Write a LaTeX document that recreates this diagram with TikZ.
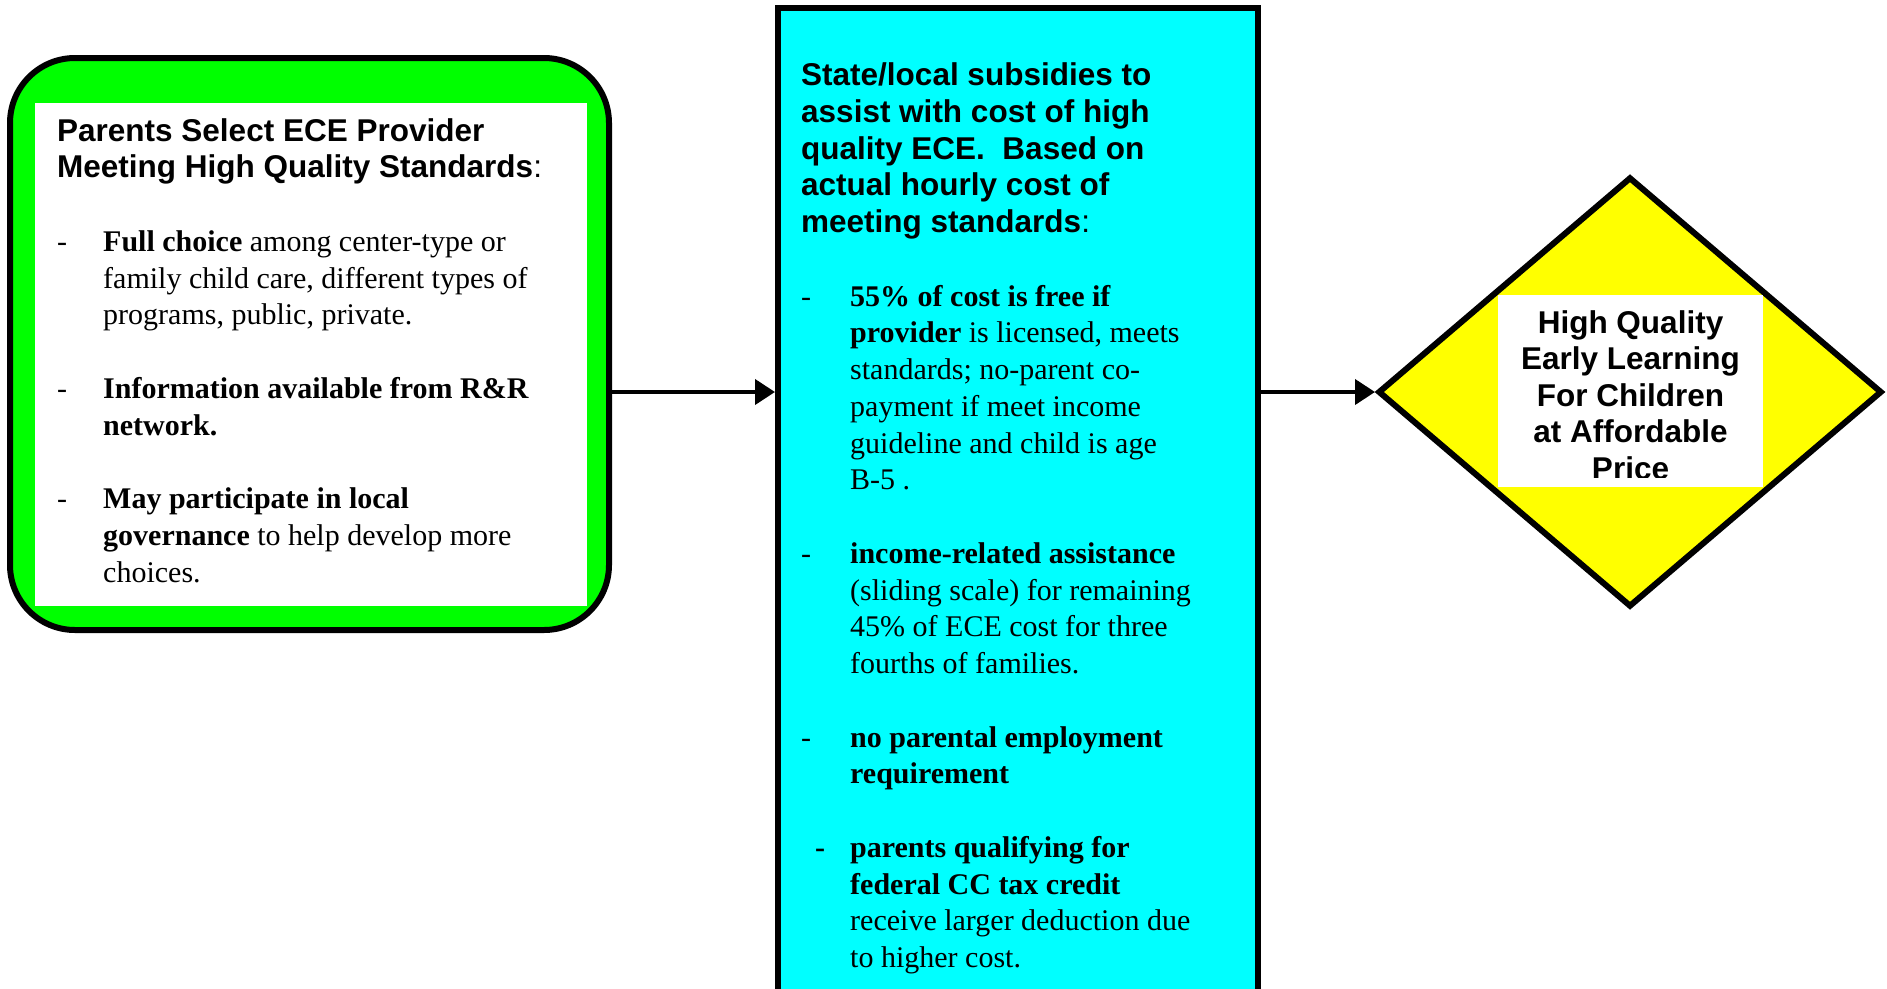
\documentclass[tikz,border=0pt]{standalone}
\usepackage{fontspec}
\setmainfont{Liberation Serif}
\setsansfont{Liberation Sans}
\usetikzlibrary{arrows.meta,shapes.geometric}
\definecolor{boxgreen}{RGB}{0,255,0}
\definecolor{boxcyan}{RGB}{0,255,255}
\definecolor{boxyellow}{RGB}{255,255,0}
\tikzset{
  hd/.style={anchor=base west, inner sep=0pt, font=\fontsize{31.5}{36}\selectfont\sffamily\bfseries},
  hdc/.style={anchor=base, inner sep=0pt, font=\fontsize{31.5}{36}\selectfont\sffamily\bfseries},
  tx/.style={anchor=base west, inner sep=0pt, font=\fontsize{30}{36}\selectfont\rmfamily},
  frame/.style={draw=black, line width=6pt, inner sep=0pt},
  panel/.style={fill=white, draw=none, inner sep=0pt},
  arr/.style={line width=4pt, -{Triangle[length=20pt,width=25pt]}},
}
\begin{document}
\begin{tikzpicture}[x=1pt,y=-1pt]
\useasboundingbox (0,0) rectangle (1887,988);
\clip (0,0) rectangle (1887,988);
% boxes
\node[frame, fill=boxgreen, rounded corners=65pt, minimum width=599pt, minimum height=572pt] (green) at (309.5,344) {};
\node[panel, minimum width=552pt, minimum height=503pt] (gwhite) at (311,354.5) {};
\node[frame, fill=boxcyan, minimum width=480pt, minimum height=1100pt] (cyan) at (1018,558) {};
\node[frame, fill=boxyellow, shape=diamond, minimum width=504pt, minimum height=430pt, line join=miter] (dia) at (1630,392) {};
\node[panel, minimum width=265pt, minimum height=192pt] (dwhite) at (1630.5,391) {};
% connectors
\coordinate (lvl) at (0,392);
\draw[arr] (green.east |- lvl) -- (cyan.west |- lvl);
\draw[arr] (cyan.east |- dia.west) -- (dia.west);
% green box text
\node[hd] (g1) at (57,141) {Parents Select ECE Provider};
\node[hd] (g2) at (57,177.75) {Meeting High Quality Standards\textmd{:}};
\node[tx] (gd1) at (57,251.25) {-};
\node[tx] (g3) at (103,251.25) {\textbf{Full choice} among center-type or};
\node[tx] (g4) at (103,288) {family child care, different types of};
\node[tx] (g5) at (103,324.75) {programs, public, private.};
\node[tx] (gd2) at (57,398.25) {-};
\node[tx] (g6) at (103,398.25) {\textbf{Information available from R\&R}};
\node[tx] (g7) at (103,435) {\textbf{network.}};
\node[tx] (gd3) at (57,508.5) {-};
\node[tx] (g8) at (103,508.5) {\textbf{May participate in local}};
\node[tx] (g9) at (103,545.25) {\textbf{governance} to help develop more};
\node[tx] (g10) at (103,582) {choices.};
% cyan box text
\node[hd] (c1) at (801,85.5) {State/local subsidies to};
\node[hd] (c2) at (801,122.25) {assist with cost of high};
\node[hd] (c3) at (801,159) {quality ECE.\ \ Based on};
\node[hd] (c4) at (801,195.75) {actual hourly cost of};
\node[hd] (c5) at (801,232.5) {meeting standards\textmd{:}};
\node[tx] (cd1) at (801,306) {-};
\node[tx] (c6) at (850,306) {\textbf{55\% of cost is free if}};
\node[tx] (c7) at (850,342.75) {\textbf{provider} is licensed, meets};
\node[tx] (c8) at (850,379.5) {standards; no-parent co-};
\node[tx] (c9) at (850,416.25) {payment if meet income};
\node[tx] (c10) at (850,453) {guideline and child is age};
\node[tx] (c11) at (850,489.75) {B-5 .};
\node[tx] (cd2) at (801,563.25) {-};
\node[tx] (c12) at (850,563.25) {\textbf{income-related assistance}};
\node[tx] (c13) at (850,600) {(sliding scale) for remaining};
\node[tx] (c14) at (850,636.75) {45\% of ECE cost for three};
\node[tx] (c15) at (850,673.5) {fourths of families.};
\node[tx] (cd3) at (801,747) {-};
\node[tx] (c16) at (850,747) {\textbf{no parental employment}};
\node[tx] (c17) at (850,783.75) {\textbf{requirement}};
\node[tx] (cd4) at (815,857.25) {\textbf{-}};
\node[tx] (c18) at (850,857.25) {\textbf{parents qualifying for}};
\node[tx] (c19) at (850,894) {\textbf{federal CC tax credit}};
\node[tx] (c20) at (850,930.75) {receive larger deduction due};
\node[tx] (c21) at (850,967.5) {to higher cost.};
% diamond text
\begin{scope}
\clip (1498,295) rectangle (1763,477);
\node[hdc] (d1) at (1630.5,333) {High Quality};
\node[hdc] (d2) at (1630.5,369.5) {Early Learning};
\node[hdc] (d3) at (1630.5,406) {For Children};
\node[hdc] (d4) at (1630.5,442.5) {at Affordable};
\node[hdc] (d5) at (1630.5,479) {Price};
\end{scope}
\end{tikzpicture}
\end{document}
